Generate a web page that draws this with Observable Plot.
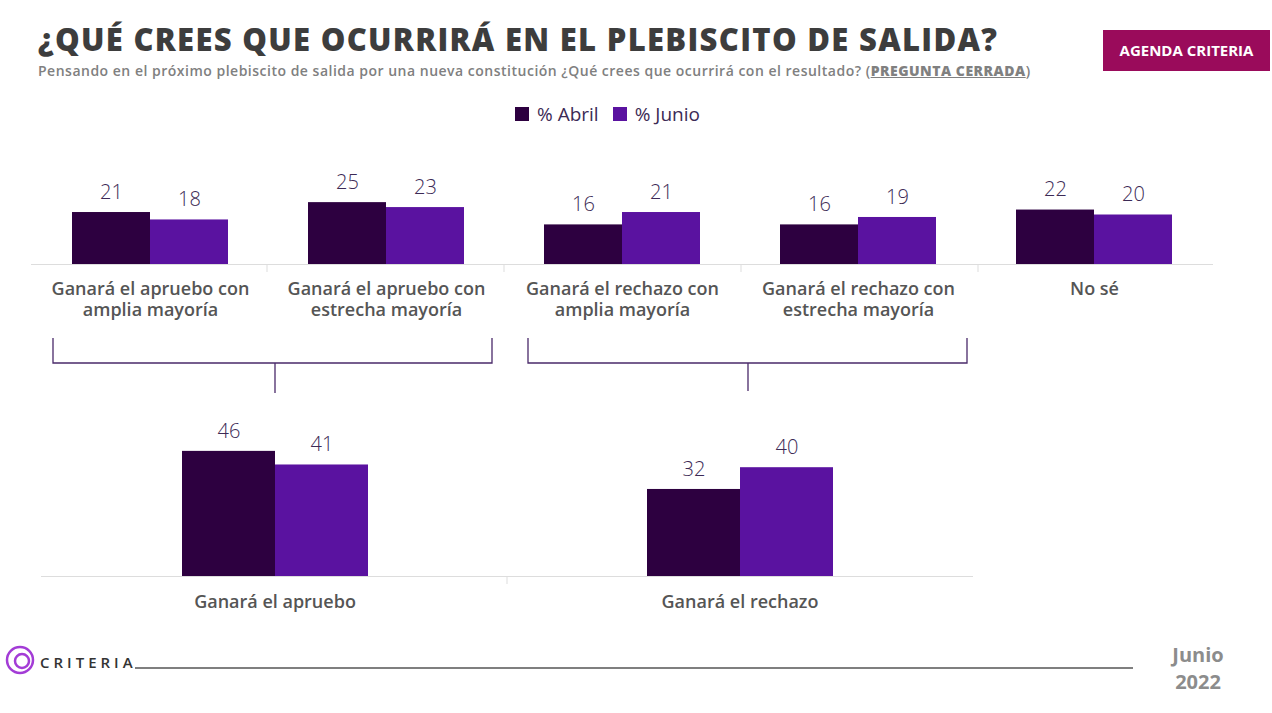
<!DOCTYPE html>
<html><head><meta charset="utf-8">
<script src="https://cdn.jsdelivr.net/npm/d3@7"></script>
<script src="https://cdn.jsdelivr.net/npm/@observablehq/plot@0.6"></script>
<style>
body{margin:0;width:1272px;height:713px;position:relative;background:#fff;font-family:"Open Sans",sans-serif;overflow:hidden}
.abs{position:absolute;line-height:1.1}
</style></head><body>
<div class="abs" style="left:38px;top:24px;font-size:31px;line-height:1;font-weight:800;color:#3d3d3d;letter-spacing:1.3px">¿QUÉ CREES QUE OCURRIRÁ EN EL PLEBISCITO DE SALIDA?</div>
<div class="abs" style="left:38px;top:64px;font-size:14px;line-height:1;font-weight:600;color:#808080;letter-spacing:0.5px">Pensando en el próximo plebiscito de salida por una nueva constitución ¿Qué crees que ocurrirá con el resultado? (<u style="font-weight:800">PREGUNTA CERRADA</u>)</div>
<div class="abs" style="left:1103px;top:30px;width:167px;height:41px;background:#9a0b5b;color:#fff;font-weight:700;font-size:15px;display:flex;align-items:center;justify-content:center">AGENDA CRITERIA</div>
<div class="abs" style="left:515px;top:104px;font-size:19px;color:#3c2a55;display:flex;gap:8px;align-items:center">
<span style="width:14px;height:14px;background:#2d0040;display:inline-block"></span>% Abril
<span style="width:14px;height:14px;background:#5a12a0;display:inline-block;margin-left:6px"></span>% Junio</div>
<div id="top" class="abs" style="left:0;top:130px"></div>
<div id="bot" class="abs" style="left:0;top:400px"></div>
<svg class="abs" style="left:0;top:0" width="1272" height="713">
<g stroke="#4a2a6a" stroke-width="1.3" fill="none">
<path d="M53 338V363H492V338M275 363V393"/>
<path d="M528 338V363H967V338M748 363V391"/>
<line x1="135" y1="668" x2="1133" y2="668" stroke="#555"/>
<circle cx="20" cy="660" r="13" stroke="#a33cd6" stroke-width="2.5"/>
<circle cx="22" cy="661" r="7" stroke="#a33cd6" stroke-width="2.5"/>
</g>
<g stroke="#ddd"><path d="M267 264v8M504 264v8M741 264v8M978 264v8M507 576v8"/></g>
<text x="40" y="668" font-size="15" font-weight="600" letter-spacing="4" fill="#333">CRITERIA</text>
<text x="1198" y="662" font-size="20" font-weight="700" fill="#8c8c8c" text-anchor="middle">Junio</text>
<text x="1198" y="689" font-size="20" font-weight="700" fill="#8c8c8c" text-anchor="middle">2022</text>
</svg>
<script>
const periods=["% Abril","% Junio"];
const colors=["#2d0040","#5a12a0"];
const topCats=["Ganará el apruebo con\namplia mayoría","Ganará el apruebo con\nestrecha mayoría","Ganará el rechazo con\namplia mayoría","Ganará el rechazo con\nestrecha mayoría","No sé"];
const topAbril=[21,25,16,16,22];
const topJunio=[18,23,21,19,20];
const botCats=["Ganará el apruebo","Ganará el rechazo"];
const botAbril=[46,32];
const botJunio=[41,40];
function rows(cats,a,j){return cats.flatMap((c,i)=>[{cat:c,p:periods[0],v:a[i]},{cat:c,p:periods[1],v:j[i]}]);}
function chart(cats,a,j,o){
  const data=rows(cats,a,j);
  return Plot.plot({width:1272,height:o.h,marginLeft:o.ml,marginRight:o.mr,marginTop:o.mt,marginBottom:o.mb,
    style:{fontFamily:"'Open Sans',sans-serif",overflow:"visible"},
    fx:{domain:cats,padding:0,label:null},
    x:{domain:periods,paddingInner:0,paddingOuter:o.po,axis:null},
    y:{domain:[0,o.ymax],axis:null},
    color:{domain:periods,range:colors},
    marks:[
      Plot.ruleY([0],{stroke:"#ddd",insetLeft:-1,insetRight:-1}),
      Plot.barY(data,{fx:"cat",x:"p",y:"v",fill:"p"}),
      Plot.text(data,{fx:"cat",x:"p",y:"v",text:d=>d.v,dy:-20,fontSize:20,fill:"#3c2a55",fontWeight:300,fontFamily:"'Open Sans'"}),
      Plot.axisFx({anchor:"bottom",tickSize:0,fontSize:18,fontWeight:600,fill:"#555",tickPadding:o.tp,lineHeight:1.2})
    ]});
}
document.getElementById("top").append(chart(topCats,topAbril,topJunio,{h:200,ml:30,mr:58,mt:35,mb:66,ymax:40,po:0.5,tp:15}));
document.getElementById("bot").append(chart(botCats,botAbril,botJunio,{h:240,ml:42,mr:300,mt:40,mb:64,ymax:50,po:1.5,tp:16}));
</script>
</body></html>
